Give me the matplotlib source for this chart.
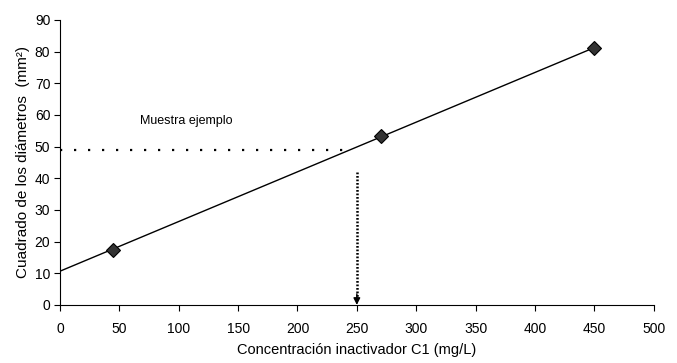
import numpy as np
import matplotlib
matplotlib.use("Agg")
import matplotlib.pyplot as plt

plt.rcParams['font.family'] = ['Liberation Sans', 'DejaVu Sans']

# data points
conc = [45, 270, 450]
diam2 = [17.5, 53.5, 81]

# example sample
sample_y = 49
sample_x = 250
sample_arrow_top = 42

x_ticks = list(range(0, 501, 50))
y_ticks = list(range(0, 91, 10))

fig = plt.figure(figsize=(6.77, 3.63), dpi=100)
ax = fig.add_axes([0.0886, 0.16, 0.877, 0.785])

# linear trend line
slope, intercept = np.polyfit(conc, diam2, 1)
xl = np.array([0, max(conc)])
ax.plot(xl, slope * xl + intercept, color='black', linewidth=1.0, zorder=2)

ax.plot(conc, diam2, linestyle='none', marker='D', markersize=7,
        markerfacecolor='#333333', markeredgecolor='black', markeredgewidth=0.8, zorder=3)

# horizontal dotted line from sample
x_end = (sample_y - intercept) / slope
ax.plot([0, x_end], [sample_y, sample_y], color='black', linewidth=1.6,
        linestyle=(0, (1, 5.3)), zorder=1)

# vertical dotted arrow
ax.plot([sample_x, sample_x], [sample_arrow_top, 2.5], color='black',
        linewidth=1.8, linestyle=(0, (0.7, 0.7)), zorder=1)
ax.annotate('', xy=(sample_x, 0), xytext=(sample_x, 3.5),
            arrowprops=dict(arrowstyle='-|>', color='black', linewidth=1.0,
                            mutation_scale=10, shrinkA=0, shrinkB=0))

ax.text(67, 58, 'Muestra ejemplo', fontsize=9, ha='left', va='center')

ax.set_xlim(0, 500)
ax.set_ylim(0, 90)
ax.set_xticks(x_ticks)
ax.set_yticks(y_ticks)
ax.tick_params(axis='both', direction='out', length=4, width=0.8, labelsize=10, pad=8)
ax.tick_params(axis='y', pad=3)
for s in ['top', 'right']:
    ax.spines[s].set_visible(False)
for s in ['left', 'bottom']:
    ax.spines[s].set_linewidth(0.8)

ax.set_xlabel('Concentración inactivador C1 (mg/L)', fontsize=10.5, labelpad=5)
ax.set_ylabel('Cuadrado de los diámetros  (mm²)', fontsize=11, labelpad=3)

fig.savefig('out.png', dpi=100)
